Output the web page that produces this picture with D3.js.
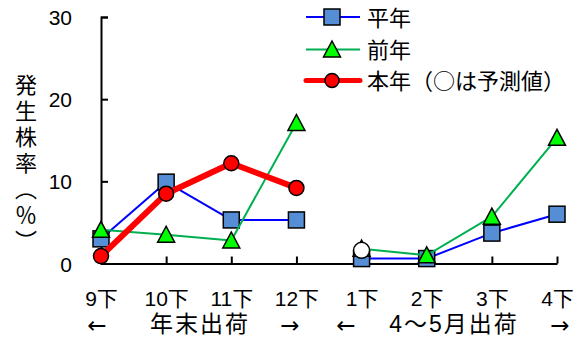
<!DOCTYPE html>
<html>
<head>
<meta charset="utf-8">
<script src="https://cdn.jsdelivr.net/npm/d3@7"></script>
<style>
  html, body { margin: 0; padding: 0; background: #fff; }
  svg { display: block; }
  text { font-family: "Liberation Sans", "Noto Sans CJK JP", sans-serif; fill: #000; }
  .cjk { font-family: "Noto Sans CJK JP", sans-serif; }
  .arrow { font-family: "DejaVu Sans", sans-serif; }
  .vertical { writing-mode: vertical-rl; text-orientation: mixed; }
</style>
</head>
<body>
<svg id="chart" width="587" height="340"></svg>
<script>
// 出荷時期（半旬）
const categories = ["9下", "10下", "11下", "12下", "1下", "2下", "3下", "4下"];
// 出荷区分：0 = 年末出荷, 1 = 4～5月出荷（区分ごとに線をつなぐ）
const shipGroups = [0, 0, 0, 0, 1, 1, 1, 1];
// 発生株率（%）
const heinen = [3.0, 9.9, 5.3, 5.3, 0.6, 0.6, 3.7, 6.0];   // 平年
const zennen = [4.1, 3.5, 2.8, 17.1, 1.8, 1.0, 5.7, 15.3]; // 前年
const honnen = [0.9, 8.5, 12.2, 9.2, 1.6, null, null, null]; // 本年
const honnenPredicted = [false, false, false, false, true, false, false, false];
const yTicks = [0, 10, 20, 30];
const yTitle = "発生株率（％）";
const groupLabels = [
  { left: "←", text: "年末出荷", right: "→" },
  { left: "←", text: "4～5月出荷", right: "→" }
];
const legendNames = ["平年", "前年", "本年（○は予測値）"];

const svg = d3.select("#chart");

const x = d3.scalePoint().domain(categories).range([101, 557]).padding(0);
const y = d3.scaleLinear().domain([0, 30]).range([263.5, 17]);

// 軸
const yAxis = d3.axisLeft(y).tickValues(yTicks).tickSizeInner(-7).tickSizeOuter(-7).tickPadding(29);
const gy = svg.append("g").attr("transform", "translate(101,0)").call(yAxis);
gy.selectAll("text").attr("font-size", 21).attr("dy", "0.36em");

const xAxis = d3.axisBottom(x).tickSizeInner(-7).tickSizeOuter(0).tickPadding(27.5);
const gx = svg.append("g").attr("transform", "translate(0,263.5)").call(xAxis);
gx.selectAll("text").attr("font-size", 21);

[gx, gy].forEach(g => {
  g.attr("font-family", null);
  g.selectAll("path, line").attr("stroke", "#000").attr("stroke-width", 2);
});

// 縦軸タイトル（縦書き）
svg.append("text")
  .attr("class", "cjk vertical")
  .attr("x", 26).attr("y", 74)
  .attr("font-size", 22)
  .attr("letter-spacing", 4)
  .text(yTitle);

// 出荷区分ラベル
const groupRows = [
  { lx: 97, cx: 200, rx: 290 },
  { lx: 346, cx: 454, rx: 560 }
];
groupLabels.forEach((g, i) => {
  const p = groupRows[i];
  const row = svg.append("g").attr("font-size", 23);
  row.append("text").attr("class", "arrow").attr("x", p.lx).attr("y", 333).attr("text-anchor", "middle").text(g.left);
  row.append("text").attr("x", p.cx).attr("y", 332).attr("text-anchor", "middle").attr("letter-spacing", 2).text(g.text);
  row.append("text").attr("class", "arrow").attr("x", p.rx).attr("y", 333).attr("text-anchor", "middle").text(g.right);
});

// 系列
const trianglePath = "M0,-8.5L8.5,7.5L-8.5,7.5Z";
const series = [
  { values: heinen, line: "#0000FF", width: 2, marker: "square", fill: "#558ED5" },
  { values: zennen, line: "#00B050", width: 2, marker: "triangle", fill: "#00FF00" },
  { values: honnen, line: "#FF0000", width: 6, marker: "circle", fill: "#FF0000", predicted: honnenPredicted }
];

const line = d3.line()
  .defined(d => d.v != null)
  .x(d => x(d.c))
  .y(d => y(d.v));

function drawMarker(g, type, fill, px, py, r) {
  if (type === "square") {
    g.append("rect").attr("x", px - 8).attr("y", py - 8).attr("width", 16).attr("height", 16)
      .attr("fill", fill).attr("stroke", "#000").attr("stroke-width", 1.5);
  } else if (type === "triangle") {
    g.append("path").attr("d", trianglePath).attr("transform", `translate(${px},${py})`)
      .attr("fill", fill).attr("stroke", "#000").attr("stroke-width", 1.5).attr("stroke-linejoin", "miter");
  } else {
    g.append("circle").attr("cx", px).attr("cy", py).attr("r", r || 7.5)
      .attr("fill", fill).attr("stroke", "#000").attr("stroke-width", 1.5);
  }
}

series.forEach(s => {
  const g = svg.append("g");
  const pts = categories.map((c, i) => ({ c, v: s.values[i], grp: shipGroups[i], i }));
  d3.groups(pts, d => d.grp).forEach(([, seg]) => {
    g.append("path").datum(seg)
      .attr("d", line)
      .attr("fill", "none")
      .attr("stroke", s.line)
      .attr("stroke-width", s.width)
      .attr("stroke-linejoin", "round")
      .attr("stroke-linecap", "round");
  });
  pts.filter(d => d.v != null).forEach(d => {
    const pred = s.predicted && s.predicted[d.i];
    drawMarker(g, s.marker, pred ? "#FFFFFF" : s.fill, x(d.c), y(d.v), pred ? 8 : 7.5);
  });
});

// 凡例
const legend = svg.append("g");
const legendY = [17, 49.5, 80.5];
series.forEach((s, i) => {
  const ly = legendY[i];
  legend.append("line").attr("x1", 306).attr("x2", 360).attr("y1", ly).attr("y2", ly)
    .attr("stroke", s.line).attr("stroke-width", s.width === 6 ? 5 : 2)
    .attr("stroke-linecap", s.width === 6 ? "round" : "butt");
  drawMarker(legend, s.marker, s.fill, 332, ly, 7);
  legend.append("text").attr("class", "cjk").attr("x", 367).attr("y", ly).attr("dy", "0.4em")
    .attr("font-size", 22).text(legendNames[i]);
});
</script>
</body>
</html>
